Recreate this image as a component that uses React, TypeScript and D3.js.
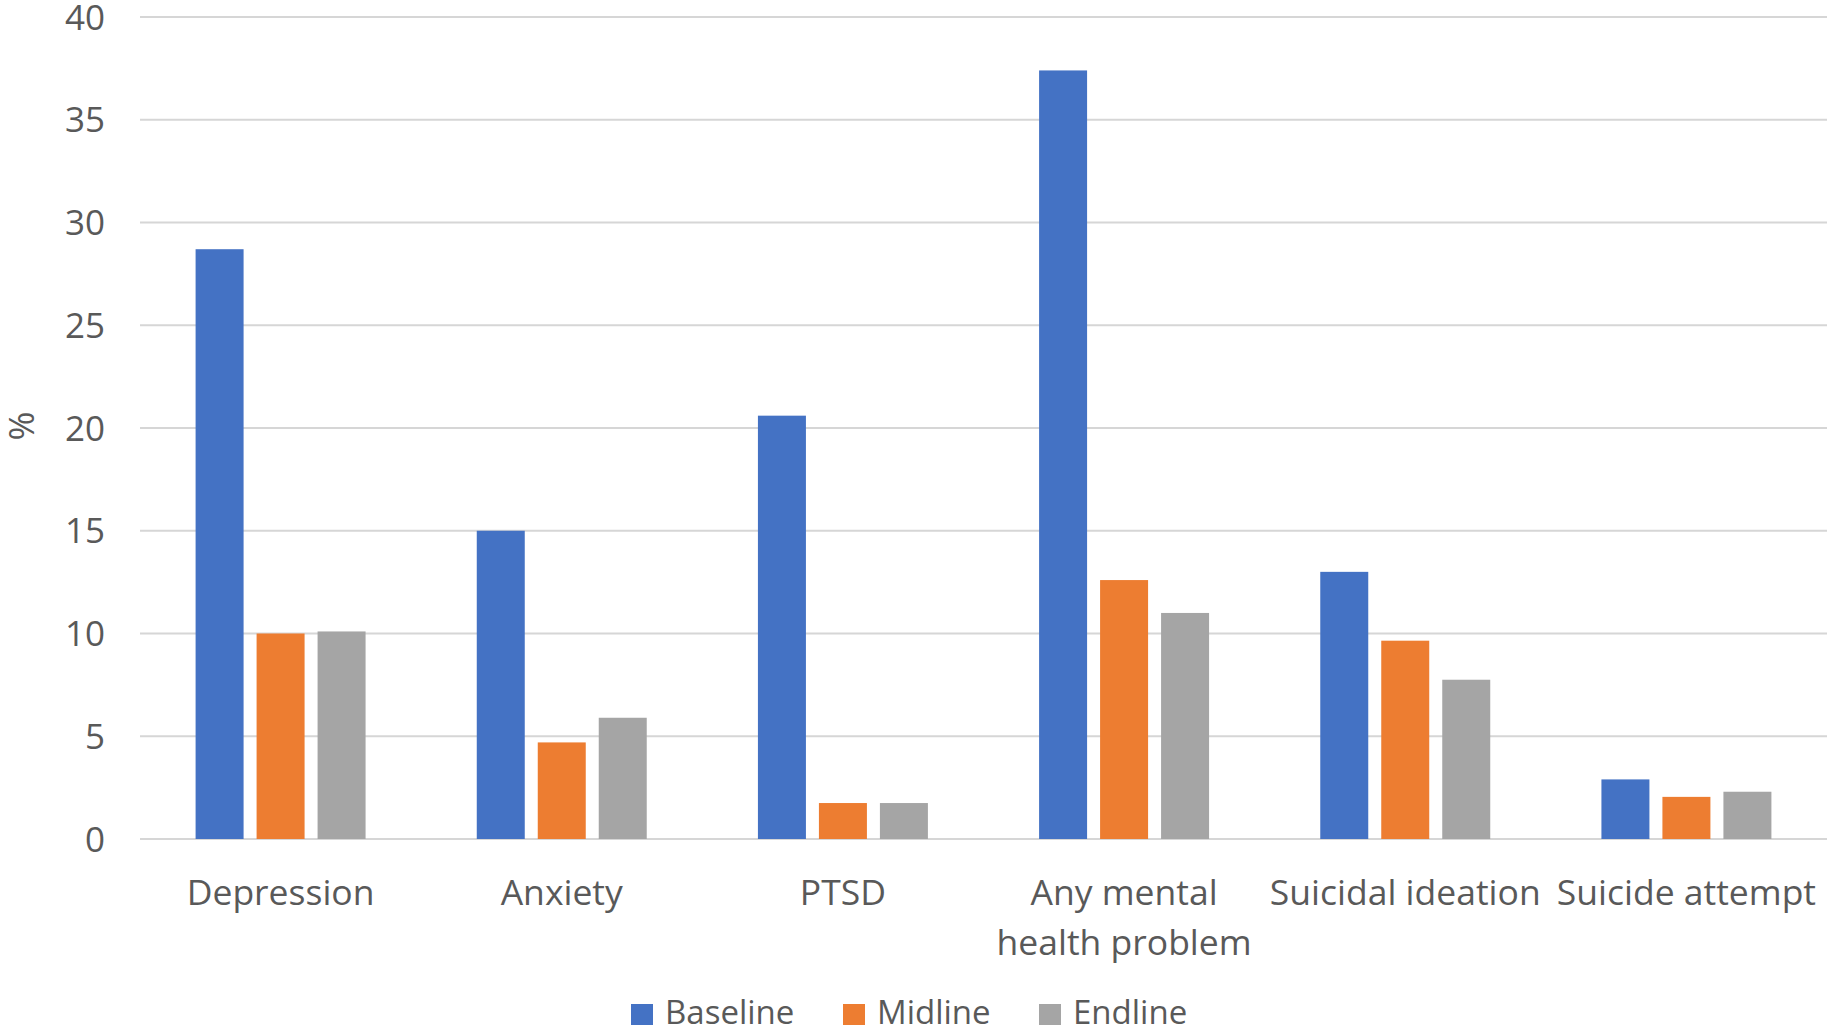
import * as d3 from "d3";

const categories = [
  ["Depression"],
  ["Anxiety"],
  ["PTSD"],
  ["Any mental", "health problem"],
  ["Suicidal ideation"],
  ["Suicide attempt"],
];
const seriesNames = ["Baseline", "Midline", "Endline"];
const baseline = [28.7, 15.0, 20.6, 37.4, 13.0, 2.9];
const midline = [10.0, 4.7, 1.75, 12.6, 9.65, 2.05];
const endline = [10.1, 5.9, 1.75, 11.0, 7.75, 2.3];
const yTicks = [0, 5, 10, 15, 20, 25, 30, 35, 40];
const colors = ["#4472C4", "#ED7D31", "#A5A5A5"];

const values = [baseline, midline, endline];

export default function App() {
  const width = 1830;
  const height = 1031;
  const margin = { top: 17, right: 3, bottom: 192, left: 140 };
  const font = "'Open Sans', 'Noto Sans', sans-serif";
  const textColor = "#595959";

  const y = d3
    .scaleLinear()
    .domain([0, 40])
    .range([height - margin.bottom, margin.top]);

  const x = d3
    .scaleBand<number>()
    .domain(d3.range(categories.length))
    .range([margin.left, width - margin.right]);

  const groupW = x.bandwidth() * (170 / 281.2);
  const inner = d3
    .scaleBand<number>()
    .domain(d3.range(seriesNames.length))
    .range([0, groupW])
    .paddingInner(13 / 61);

  // legend swatch left edges
  const legendX = [631, 843, 1039];

  return (
    <>
      <style>{`body{margin:0}`}</style>
      <svg width={width} height={height} style={{ display: "block", background: "#fff" }}>
        {yTicks.map((t) => (
          <g key={t}>
            <line
              x1={margin.left}
              x2={width - margin.right}
              y1={y(t)}
              y2={y(t)}
              stroke="#D6D6D6"
              strokeWidth={2}
            />
            <text
              x={105}
              y={y(t)}
              dy="0.36em"
              textAnchor="end"
              fontFamily={font}
              fontSize={35}
              fill={textColor}
            >
              {t}
            </text>
          </g>
        ))}

        {categories.map((_, ci) =>
          values.map((vals, si) => {
            const x0 = (x(ci) as number) + (x.bandwidth() - groupW) / 2 + (inner(si) as number);
            return (
              <rect
                key={`${ci}-${si}`}
                x={x0}
                y={y(vals[ci])}
                width={inner.bandwidth()}
                height={y(0) - y(vals[ci])}
                fill={colors[si]}
              />
            );
          })
        )}

        {categories.map((lines, ci) => (
          <text
            key={ci}
            x={(x(ci) as number) + x.bandwidth() / 2}
            y={905}
            textAnchor="middle"
            fontFamily={font}
            fontSize={35.5}
            fill={textColor}
          >
            {lines.map((l, li) => (
              <tspan key={li} x={(x(ci) as number) + x.bandwidth() / 2} dy={li === 0 ? 0 : 50}>
                {l}
              </tspan>
            ))}
          </text>
        ))}

        <text
          transform={`translate(34,426) rotate(-90)`}
          textAnchor="middle"
          fontFamily={font}
          fontSize={35}
          fill={textColor}
        >
          %
        </text>

        {seriesNames.map((s, si) => (
          <g key={s}>
            <rect x={legendX[si]} y={1004} width={22} height={21} fill={colors[si]} />
            <text
              x={legendX[si] + 34}
              y={1024}
              fontFamily={font}
              fontSize={33}
              fill={textColor}
            >
              {s}
            </text>
          </g>
        ))}
      </svg>
    </>
  );
}
